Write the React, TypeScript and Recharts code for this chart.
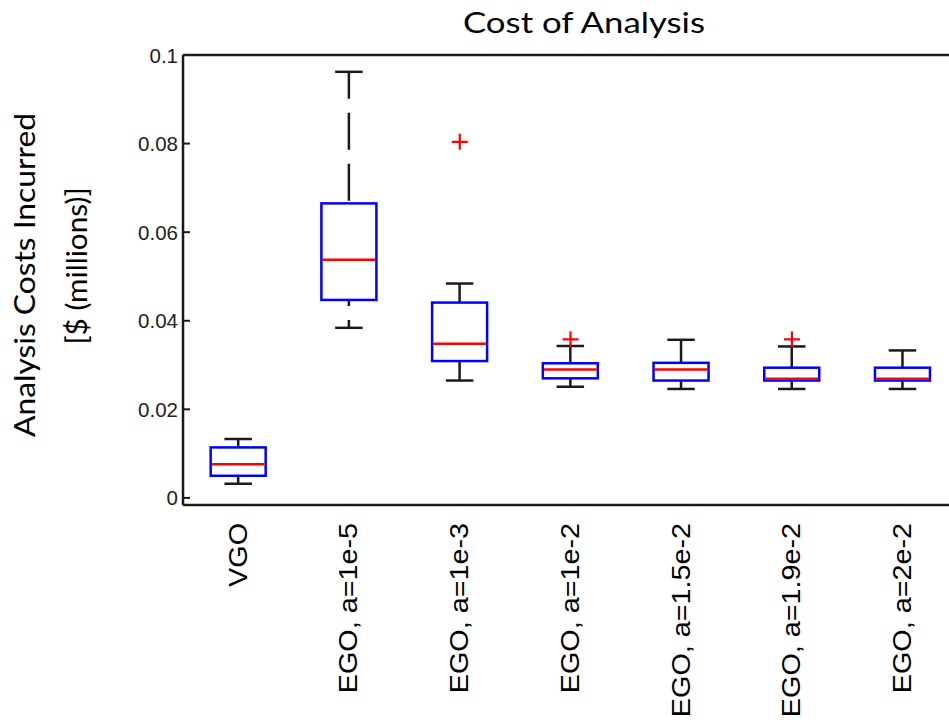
import React from "react";
import { ComposedChart, Bar, Scatter, XAxis, YAxis, ReferenceLine } from "recharts";

// box plot summaries ($ millions)
const categories = [
  "VGO",
  "EGO, a=1e-5",
  "EGO, a=1e-3",
  "EGO, a=1e-2",
  "EGO, a=1.5e-2",
  "EGO, a=1.9e-2",
  "EGO, a=2e-2",
];
const whiskerLow = [0.0032, 0.0384, 0.0265, 0.0251, 0.0246, 0.0246, 0.0246];
const quartile1 = [0.005, 0.0447, 0.0309, 0.027, 0.0265, 0.0265, 0.0265];
const medians = [0.0076, 0.0538, 0.0348, 0.029, 0.029, 0.0269, 0.0269];
const quartile3 = [0.0114, 0.0665, 0.0441, 0.0304, 0.0305, 0.0294, 0.0294];
const whiskerHigh = [0.0133, 0.0962, 0.0484, 0.0343, 0.0357, 0.0342, 0.0333];
const outliers = [null, null, 0.0804, 0.0358, null, 0.0358, null];

const yTicks = [0, 0.02, 0.04, 0.06, 0.08, 0.1];
const yTickLabels = ["0", "0.02", "0.04", "0.06", "0.08", "0.1"];

const data = categories.map((name, i) => ({
  name,
  range: [whiskerLow[i], whiskerHigh[i]],
  lo: whiskerLow[i],
  q1: quartile1[i],
  med: medians[i],
  q3: quartile3[i],
  hi: whiskerHigh[i],
  outlier: outliers[i],
}));

const BLUE = "#0000ff";
const RED = "#ff0000";
const INK = "#1a1a1a";
const numFont = "'Liberation Sans', Arial, sans-serif";
const textFont = "Lato, 'Open Sans', sans-serif";

function BoxShape(props: any) {
  const { x, y, width, height, payload } = props;
  const { lo, hi, q1, med, q3 } = payload;
  // pixel position of a value inside the bar's [lo, hi] span
  const toY = (v: number) => y + ((hi - v) / (hi - lo)) * height;
  const cx = x + width / 2;
  const cap = width / 4;
  const yHi = toY(hi);
  const yQ3 = toY(q3);
  const yMed = toY(med);
  const yQ1 = toY(q1);
  const yLo = toY(lo);
  const upDash = yQ3 - yHi > 25;
  const lowDash = yLo - yQ1 > 25;
  return (
    <g>
      <line x1={cx} x2={cx} y1={yHi} y2={yQ3} stroke={INK} strokeWidth={2.5}
        strokeDasharray={upDash ? "37 14" : undefined} strokeDashoffset={10} />
      <line x1={cx} x2={cx} y1={yQ1} y2={yLo} stroke={INK} strokeWidth={2.5}
        strokeDasharray={lowDash ? "37 14" : undefined} strokeDashoffset={31} />
      <line x1={cx - cap} x2={cx + cap} y1={yHi} y2={yHi} stroke={INK} strokeWidth={2.5} />
      <line x1={cx - cap} x2={cx + cap} y1={yLo} y2={yLo} stroke={INK} strokeWidth={2.5} />
      <rect x={x} y={yQ3} width={width} height={yQ1 - yQ3} fill="none" stroke={BLUE} strokeWidth={2.5} />
      <line x1={x + 1} x2={x + width - 1} y1={yMed} y2={yMed} stroke={RED} strokeWidth={2.5} />
    </g>
  );
}

function OutlierShape(props: any) {
  const { cx, cy, payload } = props;
  if (payload.outlier == null || cx == null || cy == null) return null;
  return (
    <g stroke={RED} strokeWidth={2.2}>
      <line x1={cx - 8} x2={cx + 8} y1={cy} y2={cy} />
      <line x1={cx} x2={cx} y1={cy - 8} y2={cy + 8} />
    </g>
  );
}

function LeftTick(props: any) {
  const { x, y, payload } = props;
  const i = yTicks.indexOf(payload.value);
  return (
    <g>
      <line x1={x} x2={x + 7} y1={y} y2={y} stroke={INK} strokeWidth={2} />
      <text x={x - 5} y={y} textAnchor="end" dominantBaseline="central"
        fontFamily={numFont} fontSize={20.5} fill="#222">
        {i >= 0 ? yTickLabels[i] : payload.value}
      </text>
    </g>
  );
}

function RightTick(props: any) {
  const { x, y } = props;
  return <line x1={x} x2={x - 7} y1={y} y2={y} stroke={INK} strokeWidth={2} />;
}

function NameTick(props: any) {
  const { x, y, payload } = props;
  return (
    <text transform={`translate(${x},${y + 18}) rotate(-90) scale(1.15,1)`}
      textAnchor="end" dominantBaseline="central"
      fontFamily={numFont} fontSize={25} fill="#000">
      {payload.value}
    </text>
  );
}

function YLabel(props: any) {
  const vb = props.viewBox || { x: 123, y: 55, width: 60, height: 450 };
  const cy = vb.y + vb.height / 2;
  return (
    <g fontFamily={textFont} fontSize={28} fill="#000" textAnchor="middle">
      <text transform={`translate(${vb.x - 88},${cy - 5}) rotate(-90)`}
        textLength={324} lengthAdjust="spacingAndGlyphs">Analysis Costs Incurred</text>
      <text transform={`translate(${vb.x - 36},${cy - 14}) rotate(-90)`}
        textLength={157} lengthAdjust="spacingAndGlyphs">[$ (millions)]</text>
    </g>
  );
}

export default function App() {
  return (
    <div style={{ position: "absolute", left: 0, top: 0, width: 949, height: 723, overflow: "hidden", background: "#fff" }}>
      <svg width={949} height={50} style={{ position: "absolute", left: 0, top: 0 }}>
        <text x={584} y={33} textAnchor="middle" fontFamily={textFont} fontSize={28} fill="#000"
          textLength={242} lengthAdjust="spacingAndGlyphs">Cost of Analysis</text>
      </svg>
      <ComposedChart width={980} height={723} data={data}
        margin={{ top: 55, left: 123, right: 12, bottom: 0 }} barCategoryGap="25%">
        <XAxis dataKey="name" type="category" height={218} interval={0}
          axisLine={{ stroke: INK, strokeWidth: 2.5 }} tickLine={false} tickSize={0} tickMargin={0}
          tick={<NameTick />} />
        <YAxis domain={[-0.0016, 0.1]} ticks={yTicks} allowDataOverflow width={60}
          axisLine={{ stroke: INK, strokeWidth: 2.5 }} tickLine={false} tickSize={0} tickMargin={0}
          tick={<LeftTick />} label={{ content: <YLabel /> }} />
        <YAxis yAxisId="right" orientation="right" domain={[-0.0016, 0.1]} ticks={yTicks}
          allowDataOverflow width={10} axisLine={{ stroke: INK, strokeWidth: 2.5 }}
          tickLine={false} tickSize={0} tickMargin={0} tick={<RightTick />} />
        <ReferenceLine y={0.1} stroke={INK} strokeWidth={2.5} />
        <Bar dataKey="range" shape={<BoxShape />} isAnimationActive={false} />
        <Scatter dataKey="outlier" shape={<OutlierShape />} isAnimationActive={false} />
      </ComposedChart>
    </div>
  );
}
